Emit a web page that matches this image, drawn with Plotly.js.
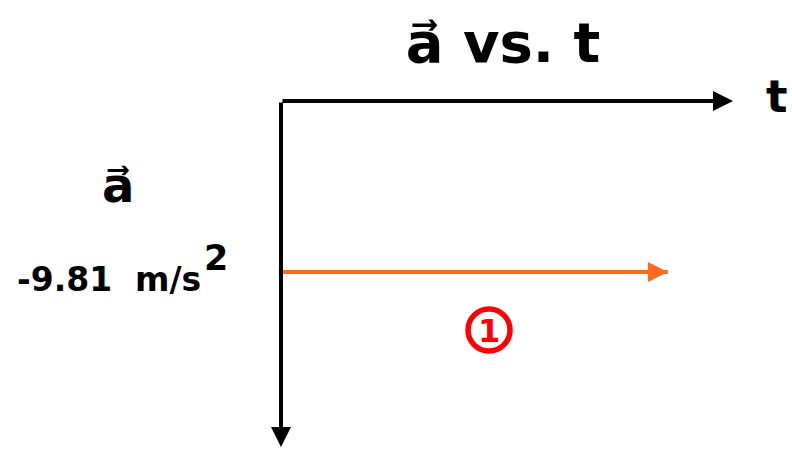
<!DOCTYPE html>
<html>
<head>
<meta charset="utf-8">
<script src="https://cdn.plot.ly/plotly-3.0.1.min.js"></script>
<style>html,body{margin:0;padding:0;background:#fff;}</style>
</head>
<body>
<div id="chart" style="width:792px;height:453px;"></div>
<script>
// ---- data ----
var tValues = [0, 8.56];           // time (arbitrary units, axis unlabeled)
var aValues = [-9.81, -9.81];      // acceleration, m/s^2 (constant)
var segmentLabels = ["1"];
var titleText = "a\u20D7 vs. t";
var xLabel = "t";
var yLabel = "a\u20D7";
var valueLabel = "-9.81  m/s";
var valueExp = "2";

// ---- layout helpers (pixel -> paper) ----
var L = 281, R = 733, T = 101, B = 447;
function px(x){ return (x - L) / (R - L); }
function py(y){ return (B - y) / (B - T); }
var yMin = aValues[0] * (B - T) / (272 - T);
var xMax = 10;
var orange = "#ff6a1f";

function f(size, color){ return {family: "DejaVu Sans", weight: "bold", size: size, color: color || "#000"}; }

var trace = {
  x: tValues, y: aValues, type: "scatter", mode: "lines",
  line: {color: orange, width: 4},
  cliponaxis: false, hoverinfo: "skip", showlegend: false
};

var n = tValues.length - 1;
var annotations = [
  // axis arrows
  {x: xMax, y: 0, ax: 0, ay: 0, xref: "x", yref: "y", axref: "x", ayref: "y",
   text: "", showarrow: true, arrowhead: 2, arrowsize: 1, arrowwidth: 4, arrowcolor: "#000", standoff: 0},
  {x: 0, y: yMin, ax: 0, ay: 0, xref: "x", yref: "y", axref: "x", ayref: "y",
   text: "", showarrow: true, arrowhead: 2, arrowsize: 1, arrowwidth: 4, arrowcolor: "#000", standoff: 0},
  // arrowhead at the end of the data segment
  {x: tValues[n], y: aValues[n], ax: -24, ay: 0, xref: "x", yref: "y", axref: "pixel", ayref: "pixel",
   text: "", showarrow: true, arrowhead: 2, arrowsize: 1, arrowwidth: 4, arrowcolor: orange, standoff: 0},
  // axis labels
  {x: px(777), y: py(96), xref: "paper", yref: "paper", text: xLabel, showarrow: false, font: f(45), xanchor: "center", yanchor: "middle"},
  {x: px(118), y: py(185), xref: "paper", yref: "paper", text: yLabel, showarrow: false, font: f(48), xanchor: "center", yanchor: "middle"},
  {x: px(15), y: py(279), xref: "paper", yref: "paper", text: valueLabel, showarrow: false, font: f(33), xanchor: "left", yanchor: "middle"},
  {x: px(216), y: py(258), xref: "paper", yref: "paper", text: valueExp, showarrow: false, font: f(35), xanchor: "center", yanchor: "middle"},
  // segment label
  {x: px(489), y: py(331), xref: "paper", yref: "paper", text: segmentLabels[0], showarrow: false, font: f(32, "#ff0000"), xanchor: "center", yanchor: "middle"}
];

var shapes = [
  {type: "circle", xref: "paper", yref: "paper", x0: px(468), x1: px(510), y0: py(351), y1: py(309),
   line: {color: "#ff0000", width: 5.5}}
];

var layout = {
  width: 792, height: 453,
  margin: {l: L, r: 792 - R, t: T, b: 453 - B},
  paper_bgcolor: "#fff", plot_bgcolor: "#fff",
  title: {text: titleText, font: f(56), x: 503 / 792, xref: "container", xanchor: "center",
          y: 1 - 42 / 453, yref: "container", yanchor: "middle"},
  xaxis: {range: [0, xMax], visible: false, fixedrange: true},
  yaxis: {range: [yMin, 0], visible: false, fixedrange: true},
  annotations: annotations,
  shapes: shapes,
  showlegend: false
};

Plotly.newPlot("chart", [trace], layout, {staticPlot: true});
</script>
</body>
</html>
